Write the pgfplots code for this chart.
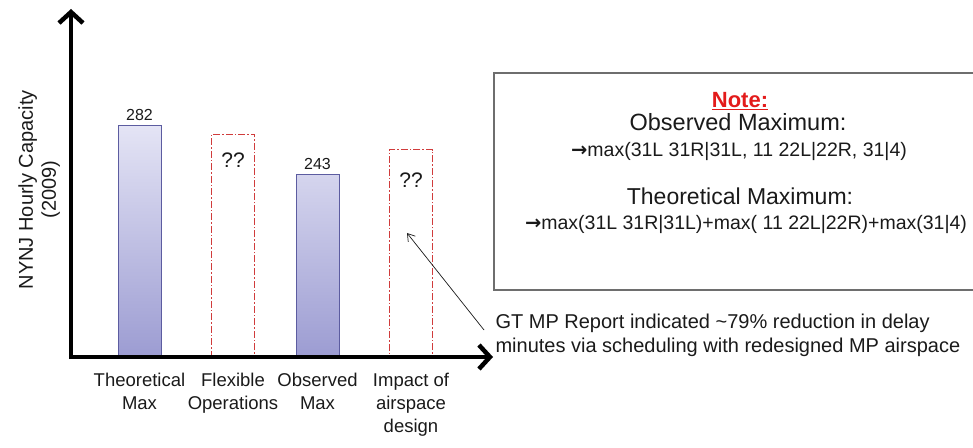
\documentclass[border=0pt]{standalone}
\usepackage{fontspec}
\setmainfont{Liberation Sans}
\newfontfamily\symfont{DejaVu Sans}
\usepackage{pgfplots}
\pgfplotsset{compat=1.18}
\usetikzlibrary{arrows.meta}

\definecolor{barTop}{HTML}{E4E4F5}
\definecolor{barBot}{HTML}{9C9CD2}
\definecolor{barEdge}{HTML}{5C5CA0}
\definecolor{tbdRed}{HTML}{D03C3C}
\definecolor{noteRed}{HTML}{E31B1B}
\definecolor{boxGray}{HTML}{6E6E6E}
\definecolor{txt}{HTML}{1A1A1A}

\newcommand{\fs}[1]{\fontsize{#1}{1.2\dimexpr#1pt\relax}\selectfont}

\begin{document}
\begin{tikzpicture}[x=1pt,y=1pt]
\useasboundingbox (0,0) rectangle (973,447);
\begin{axis}[
  at={(71pt,90pt)}, anchor=south west,
  scale only axis, width=419pt, height=347pt,
  xmin=71, xmax=490, ymin=0, ymax=276,
  axis lines=left,
  axis line style={draw=none},
  /pgf/number format/assume math mode=true,
  ytick=\empty,
  xtick={139.5,233,317.5,411},
  xticklabels={{Theoretical\\Max},{Flexible\\Operations},{Observed\\Max},{Impact of\\airspace\\design}},
  major tick length=0pt,
  xticklabel style={align=center, font=\fontsize{18.5}{23}\selectfont, text=txt, anchor=north, yshift=-13pt},
  ylabel={NYNJ Hourly Capacity\\(2009)},
  ylabel style={align=center, font=\fontsize{20}{23}\selectfont, text=txt,
    at={(axis description cs:-0.076,0.482)}, anchor=center},
  bar width=43,
  clip=false,
]
% measured capacities (bars start at the axis floor of 98)
\addplot[ybar, bar shift=0pt, y filter/.expression={y-98},
  draw=barEdge, line width=0.8pt, top color=barTop, bottom color=barBot,
  point meta=rawy, nodes near coords,
  nodes near coords style={font=\fs{16}, text=txt, anchor=south, yshift=1pt}]
  coordinates {(139.5,282) (317.5,243)};
% scenarios still to be quantified
\addplot[ybar, bar shift=0pt, y filter/.expression={y-98},
  draw=tbdRed, line width=1pt, fill=white,
  dash pattern=on 7pt off 2pt on 1.5pt off 2pt]
  coordinates {(233,275) (411,263)};
\node[font=\fs{21}, text=txt] at (axis cs:233,156.7) {??};
\node[font=\fs{21}, text=txt] at (axis cs:411,140.8) {??};
\end{axis}

% heavy axis arrows
\draw[line width=4.5pt, black, -{Straight Barb[length=11pt,width=24pt]}] (69,90) -- (493,90);
\draw[line width=4.5pt, black, -{Straight Barb[length=11pt,width=24pt]}] (71,88) -- (71,438);

% note box
\draw[boxGray, line width=1.3pt] (494,157) rectangle (990,374);
\node[anchor=base, font=\bfseries\fs{22}, text=noteRed] at (740,339) {\underline{Note:}};
\node[anchor=base, font=\fs{23.5}, text=txt] at (738,316) {Observed Maximum:};
\node[anchor=base, font=\fs{19.5}, text=txt] at (739,290) {{\symfont\bfseries →}max(31L 31R|31L, 11 22L|22R, 31|4)};
\node[anchor=base, font=\fs{23}, text=txt] at (740,242) {Theoretical Maximum:};
\node[anchor=base, font=\fs{19.5}, text=txt] at (746,217) {{\symfont\bfseries →}max(31L 31R|31L)+max( 11 22L|22R)+max(31|4)};

% annotation
\draw[-{Straight Barb[length=7pt,width=9pt]}, line width=0.7pt, txt] (484,117) -- (407,214);
\node[anchor=base west, font=\fs{20}, text=txt] at (492,118) {GT MP Report indicated \textasciitilde79\% reduction in delay};
\node[anchor=base west, font=\fs{20}, text=txt] at (492,95) {minutes via scheduling with redesigned MP airspace};
\end{tikzpicture}
\end{document}
